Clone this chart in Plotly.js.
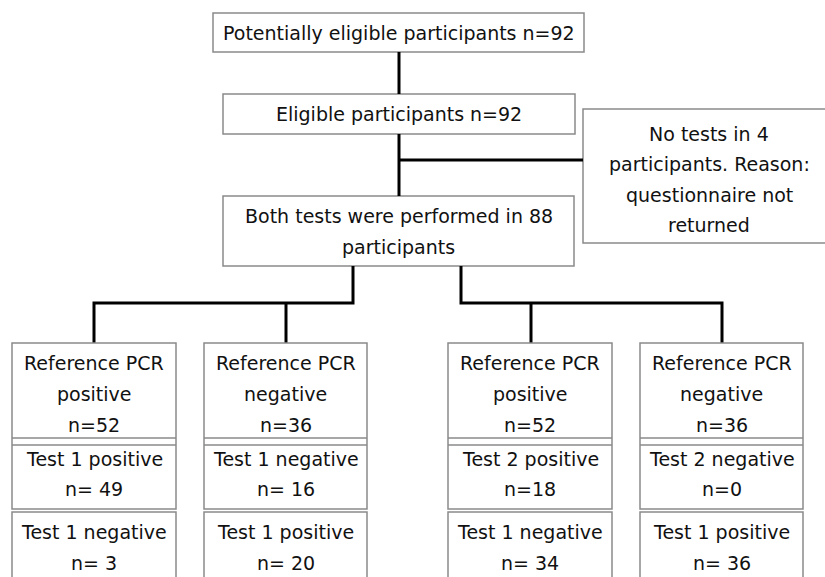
<!DOCTYPE html>
<html>
<head>
<meta charset="utf-8">
<script src="https://cdn.plot.ly/plotly-3.0.1.min.js"></script>
<style>html,body{margin:0;padding:0;background:#fff;}#chart{width:825px;height:577px;}</style>
</head>
<body>
<div id="chart"></div>
<script>
// ---- Data (text content of the flow chart) ----
const flowSteps = [
  ["Potentially eligible participants n=92"],
  ["Eligible participants n=92"],
  ["Both tests were performed in 88", "participants"]
];
const exclusionLines = ["No tests in 4", "participants. Reason:", "questionnaire not", "returned"];
const refLabel = ["Reference PCR", "Reference PCR", "Reference PCR", "Reference PCR"];
const refResult = ["positive", "negative", "positive", "negative"];
const refN = [52, 36, 52, 36];
const rowATest = ["Test 1 positive", "Test 1 negative", "Test 2 positive", "Test 2 negative"];
const rowAN = [49, 16, 18, 0];
const rowANPrefix = ["n= ", "n= ", "n=", "n="];
const rowBTest = ["Test 1 negative", "Test 1 positive", "Test 1 negative", "Test 1 positive"];
const rowBN = [3, 20, 34, 36];
const rowBNPrefix = ["n= ", "n= ", "n= ", "n= "];

// ---- Layout geometry ----
const FONT = {family: "DejaVu Sans, Verdana, sans-serif", size: 19, color: "#111111"};
const BOX = {color: "#8a8a8a", width: 1.5};
const LINK = {color: "#000000", width: 3};

const shapes = [];
const annotations = [];

function rect(x0, y0, x1, y1) {
  shapes.push({type: "rect", xref: "x", yref: "y", x0, y0, x1, y1,
    line: {color: BOX.color, width: BOX.width}, fillcolor: "rgba(0,0,0,0)"});
}
function hline(x0, x1, y, style) {
  shapes.push({type: "line", xref: "x", yref: "y", x0, x1, y0: y, y1: y,
    line: {color: style.color, width: style.width}});
}
function path(d) {
  shapes.push({type: "path", xref: "x", yref: "y", path: d,
    line: {color: LINK.color, width: LINK.width}});
}
function text(x, y, t) {
  annotations.push({x, y, xref: "x", yref: "y", text: t, showarrow: false,
    xanchor: "center", yanchor: "middle", font: FONT});
}
function lines(x, yStart, step, arr) {
  arr.forEach((t, i) => text(x, yStart + i * step, t));
}

// Main column boxes
const mainBoxes = [[213, 13, 584, 52], [223, 94, 575, 134], [223, 196, 574, 266]];
const mainLineY = [[33], [114], [216, 247]];
mainBoxes.forEach((b, i) => {
  rect(b[0], b[1], b[2], b[3]);
  const cx = (b[0] + b[2]) / 2;
  flowSteps[i].forEach((t, j) => text(cx, mainLineY[i][j], t));
});

// Exclusion box (extends beyond right edge)
rect(583, 109, 840, 243);
lines(709, 134, 30.3, exclusionLines);

// Connectors in main column
path("M399,52 L399,94");
path("M399,134 L399,196");
path("M399,160 L583,160");
path("M353,266 L353,303 L94,303 L94,343");
path("M286,303 L286,343");
path("M461,266 L461,303 L722,303 L722,343");
path("M531,303 L531,343");

// Bottom group boxes
const colX = [[12, 176], [204, 367], [448, 612], [640, 803]];
colX.forEach((c, i) => {
  const cx = (c[0] + c[1]) / 2;
  rect(c[0], 343, c[1], 509);
  hline(c[0], c[1], 438, BOX);
  hline(c[0], c[1], 445, BOX);
  rect(c[0], 512, c[1], 620);
  lines(cx, 363, 31, [refLabel[i], refResult[i], "n=" + refN[i]]);
  lines(cx, 459, 30, [rowATest[i], rowANPrefix[i] + rowAN[i]]);
  lines(cx, 532, 31, [rowBTest[i], rowBNPrefix[i] + rowBN[i]]);
});

const layout = {
  width: 825, height: 577,
  margin: {l: 0, r: 0, t: 0, b: 0, pad: 0},
  paper_bgcolor: "#ffffff", plot_bgcolor: "#ffffff",
  showlegend: false,
  xaxis: {range: [0, 825], visible: false, fixedrange: true},
  yaxis: {range: [577, 0], visible: false, fixedrange: true},
  shapes, annotations
};
Plotly.newPlot("chart", [], layout, {staticPlot: true, displayModeBar: false});
</script>
</body>
</html>
